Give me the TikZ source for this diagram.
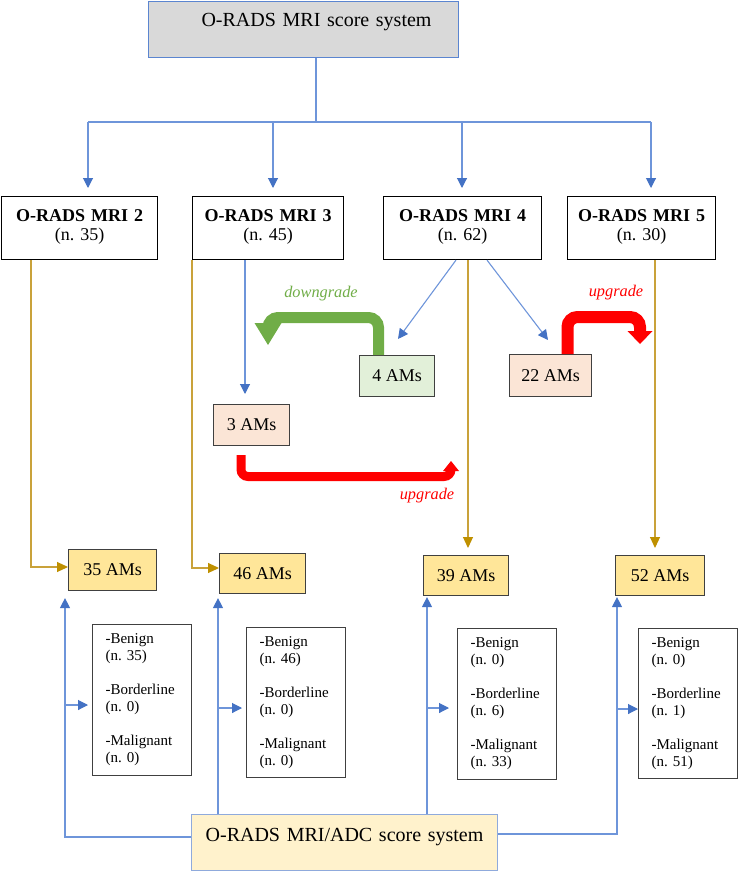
\documentclass[tikz,border=0pt]{standalone}
\usepackage{fontspec}
\setmainfont{Liberation Serif}
\usetikzlibrary{arrows.meta}
\definecolor{lblue}{HTML}{6E95DA}
\definecolor{hblue}{HTML}{4472C4}
\definecolor{lgold}{HTML}{C9A23A}
\definecolor{hgold}{HTML}{BF9000}
\definecolor{bordergray}{HTML}{404040}
\definecolor{topfill}{HTML}{D9D9D9}
\definecolor{topborder}{HTML}{5B85D0}
\definecolor{botfill}{HTML}{FFF2CC}
\definecolor{botborder}{HTML}{8FAADC}
\definecolor{amfill}{HTML}{FFE699}
\definecolor{peach}{HTML}{FBE5D6}
\definecolor{lgreen}{HTML}{E2F0D9}
\definecolor{grn}{HTML}{70AD47}
\definecolor{rd}{HTML}{FF0000}
\tikzset{
  blueline/.style={draw=lblue, line width=1.1pt},
  bluearrow/.style={blueline, -{Triangle[width=10pt,length=10pt,color=hblue]}},
  goldarrow/.style={draw=lgold, line width=1.1pt, -{Triangle[width=10pt,length=11pt,color=hgold]}},
  mribox/.style={draw=black, line width=1.1pt, fill=white, inner sep=0pt, align=center,
    text height=25pt, text depth=38pt, anchor=north west, font=\fontsize{18}{18.5}\selectfont},
  ambox/.style={draw=bordergray, line width=1.1pt, inner sep=0pt, anchor=north west,
    font=\fontsize{18}{20}\selectfont},
  listbox/.style={draw=bordergray, line width=1.1pt, fill=white, align=left, text width=73pt,
    inner xsep=13pt, inner ysep=0pt, anchor=north west, font=\fontsize{15}{17}\selectfont},
  scorebox/.style={line width=1.1pt, inner sep=0pt, align=center, anchor=north west,
    font=\fontsize{20}{22}\selectfont},
  thick arrow label/.style={font=\fontsize{16.3}{18}\selectfont\itshape}
}
\begin{document}
\frenchspacing
\begin{tikzpicture}[x=1pt,y=-1pt]
\useasboundingbox (0,0) rectangle (738,872);

% top and bottom boxes
\node[scorebox, draw=topborder, fill=topfill, text width=310pt, text height=25pt, text depth=31pt]
  (top) at (148,1) {\hspace*{26pt}O-RADS MRI score system};
\node[scorebox, draw=botborder, fill=botfill, text width=306pt, text height=27pt, text depth=29pt]
  (bot) at (191,814) {O-RADS MRI/ADC score system};

% MRI boxes
\node[mribox, text width=156pt] (m2) at (1,196) {\textbf{O-RADS MRI 2}\\(n. 35)};
\node[mribox, text width=151pt] (m3) at (192,196) {\textbf{O-RADS MRI 3}\\(n. 45)};
\node[mribox, text width=158pt] (m4) at (383,196) {\textbf{O-RADS MRI 4}\\(n. 62)};
\node[mribox, text width=148pt] (m5) at (567,196) {\textbf{O-RADS MRI 5}\\(n. 30)};

% AM boxes
\node[ambox, fill=amfill, minimum width=88pt, minimum height=41pt] (am35) at (68,549) {35 AMs};
\node[ambox, fill=amfill, minimum width=86pt, minimum height=40pt] (am46) at (219,553) {46 AMs};
\node[ambox, fill=amfill, minimum width=85pt, minimum height=40pt] (am39) at (423,555) {39 AMs};
\node[ambox, fill=amfill, minimum width=89pt, minimum height=40pt] (am52) at (615,555) {52 AMs};
\node[ambox, fill=peach, minimum width=76pt, minimum height=41pt] (am3) at (213,404) {3 AMs};
\node[ambox, fill=lgreen, minimum width=75pt, minimum height=41pt] (am4) at (359,355) {4 AMs};
\node[ambox, fill=peach, minimum width=82pt, minimum height=42pt] (am22) at (509,354) {22 AMs};

% list boxes
\node[listbox, minimum height=151pt] (l1) at (92,624) {-Benign\\(n. 35)\\[17pt]-Borderline\\(n. 0)\\[17pt]-Malignant\\(n. 0)};
\node[listbox, minimum height=150pt] (l2) at (246,627) {-Benign\\(n. 46)\\[17pt]-Borderline\\(n. 0)\\[17pt]-Malignant\\(n. 0)};
\node[listbox, minimum height=151pt] (l3) at (457,628) {-Benign\\(n. 0)\\[17pt]-Borderline\\(n. 6)\\[17pt]-Malignant\\(n. 33)};
\node[listbox, minimum height=150pt] (l4) at (638,628) {-Benign\\(n. 0)\\[17pt]-Borderline\\(n. 1)\\[17pt]-Malignant\\(n. 51)};

% top distribution
\coordinate (split) at (316,122);
\coordinate (b2) at (88,122);
\coordinate (b3) at (273,122);
\coordinate (b4) at (462,122);
\coordinate (b5) at (651,122);
\draw[blueline] (top.south -| split) -- (split);
\draw[blueline] (b2) -- (b5);
\draw[bluearrow, shorten >=8pt] (b2) -- (b2 |- m2.north);
\draw[bluearrow, shorten >=8pt] (b3) -- (b3 |- m3.north);
\draw[bluearrow, shorten >=8pt] (b4) -- (b4 |- m4.north);
\draw[bluearrow, shorten >=8pt] (b5) -- (b5 |- m5.north);

% gold connectors
\coordinate (g2) at (31,567);
\coordinate (g3) at (192,568);
\coordinate (g4) at (468,300);
\coordinate (g5) at (655,300);
\draw[goldarrow] (m2.south -| g2) -- (g2) -- (am35.west |- g2);
\draw[goldarrow] (m3.south west) -- (g3) -- (am46.west |- g3);
\draw[goldarrow, shorten >=7pt] (m4.south -| g4) -- (am39.north -| g4);
\draw[goldarrow, shorten >=7pt] (m5.south -| g5) -- (am52.north -| g5);

% blue middle connectors
\coordinate (c3) at (245,300);
\draw[bluearrow, shorten >=10pt] (m3.south -| c3) -- (am3.north -| c3);
\coordinate (s4a) at (456,300);
\coordinate (t4a) at (398,339);
\coordinate (s4b) at (487,300);
\coordinate (t4b) at (548,340);
\draw[bluearrow] (m4.south -| s4a) -- (t4a);
\draw[bluearrow] (m4.south -| s4b) -- (t4b);

% thick change arrows
\draw[grn, line width=11pt, rounded corners=10pt] (am4.north -| 378.5,0) -- (378.5,317.5) -- (268,317.5) -- (268,333);
\fill[grn] (254.5,323) -- (281.5,323) -- (268,345) -- cycle;
\draw[rd, line width=12pt, rounded corners=10pt] (am22.north -| 567.5,0) -- (567.5,317) -- (640,317) -- (640,334);
\fill[rd] (627.5,331) -- (652.5,331) -- (640,344) -- cycle;
\draw[rd, line width=9pt, rounded corners=7pt] (241,455) -- (241,476.5) -- (451,476.5) -- (451,471);
\fill[rd] (443,471) -- (459,471) -- (451,461) -- cycle;

\node[thick arrow label, text=grn] (ldown) at (321,294) {downgrade};
\node[thick arrow label, text=rd] (lup1) at (616,293) {upgrade};
\node[thick arrow label, text=rd] (lup2) at (427,496) {upgrade};

% bottom connectors
\coordinate (v1) at (65,837);
\coordinate (h1) at (65,705);
\draw[bluearrow, shorten >=7pt] (bot.west |- v1) -- (v1) -- (v1 |- am35.south);
\draw[bluearrow, shorten >=4pt] (h1) -- (h1 -| l1.west);
\coordinate (v2) at (218,700);
\coordinate (h2) at (218,708);
\draw[bluearrow, shorten >=4pt] (bot.north -| v2) -- (am46.south -| v2);
\draw[bluearrow, shorten >=4pt] (h2) -- (h2 -| l2.west);
\coordinate (v3) at (427,700);
\coordinate (h3) at (427,708);
\draw[bluearrow, shorten >=1pt] (bot.north -| v3) -- (am39.south -| v3);
\draw[bluearrow, shorten >=8pt] (h3) -- (h3 -| l3.west);
\coordinate (v4) at (617,834);
\coordinate (h4) at (617,709);
\draw[bluearrow, shorten >=1pt] (bot.east |- v4) -- (v4) -- (v4 |- am52.south);
\draw[bluearrow] (h4) -- (h4 -| l4.west);
\end{tikzpicture}
\end{document}
